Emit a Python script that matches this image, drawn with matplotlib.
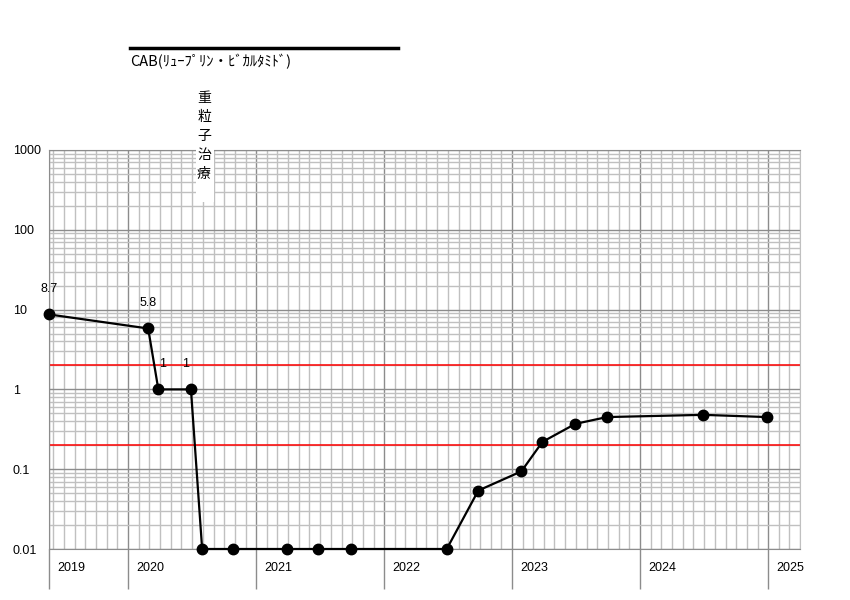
import numpy as np
import pandas as pd
import matplotlib
matplotlib.use("Agg")
from matplotlib import pyplot as plt
import matplotlib.dates as mdates
from matplotlib.ticker import FixedLocator, NullFormatter
from matplotlib.lines import Line2D
from matplotlib.patches import Rectangle

# %% data

dates = ["2019-05-20", "2020-02-27", "2020-03-27", "2020-06-28", "2020-07-30",
         "2020-10-27", "2021-03-29", "2021-06-26", "2021-09-27", "2022-06-28",
         "2022-09-26", "2023-01-27", "2023-03-28", "2023-06-30", "2023-09-28",
         "2024-06-29", "2024-12-28"]
values = [8.7, 5.8, 1.0, 1.0, 0.01, 0.01, 0.01, 0.01, 0.01, 0.01,
          0.054, 0.094, 0.22, 0.37, 0.45, 0.48, 0.45]
point_labels = ["8.7", "5.8", "1", "1"]
label_dx = [0, 0, 4, -5]          # px nudges of the value labels

ref_lines = [2.0, 0.2]
years = [2019, 2020, 2021, 2022, 2023, 2024, 2025]
y_ticks = [0.01, 0.1, 1, 10, 100, 1000]
y_tick_labels = ["0.01", "0.1", "1", "10", "100", "1000"]
x_start, x_end = "2019-05-20", "2025-04-01"

series_name = "CAB(ﾘｭｰﾌﾟﾘﾝ・ﾋﾞｶﾙﾀﾐﾄﾞ)"
event_text = "重粒子治療"

# %%

t = pd.to_datetime(dates)
xs = mdates.date2num(t)
x0 = mdates.date2num(pd.Timestamp(x_start))
x1 = mdates.date2num(pd.Timestamp(x_end))

num_font = "Liberation Sans"
jp_font = ["Noto Sans CJK JP", "DejaVu Sans"]

fig = plt.figure(figsize=(8.5, 6), dpi=100)
ax = fig.add_axes([49 / 850, 1 - 549 / 600, 751 / 850, 399 / 600])

ax.set_yscale("log")
ax.set_ylim(0.01, 1000)
ax.set_xlim(x0, x1)

# grid
year_pos = [x0] + [mdates.date2num(pd.Timestamp(f"{y}-01-01")) for y in years[1:]]
ax.xaxis.set_major_locator(FixedLocator(year_pos))
ax.xaxis.set_minor_locator(mdates.MonthLocator())
ax.xaxis.set_major_formatter(NullFormatter())
ax.set_yticks(y_ticks, y_tick_labels, ha="left", fontfamily=num_font, fontsize=9)
ax.yaxis.set_minor_formatter(NullFormatter())
ax.grid(which="minor", color="#c0c0c0", lw=1)
ax.grid(which="major", color="#8c8c8c", lw=1)
ax.set_axisbelow(True)
ax.tick_params(axis="y", which="both", length=0, pad=26)
ax.tick_params(axis="x", which="minor", length=0)
ax.tick_params(axis="x", which="major", length=29, color="#8c8c8c", width=1)
for side in ["left", "bottom", "top"]:
    ax.spines[side].set_color("#8c8c8c")
ax.spines["right"].set_color("#c0c0c0")

for pos, yr in zip(year_pos, years):
    ax.annotate(str(yr), xy=(pos, 0), xycoords=ax.get_xaxis_transform(),
                xytext=(6, -14), textcoords="offset points", ha="left",
                va="center", fontsize=9, fontfamily=num_font)

for r in ref_lines:
    ax.axhline(r, color="red", lw=1.1, zorder=2)

ax.plot(xs, values, color="black", lw=1.6, marker="o", markersize=7.5,
        zorder=4, clip_on=False)

for i, lab in enumerate(point_labels):
    ax.annotate(lab, xy=(xs[i], values[i]), xytext=(label_dx[i] / 1.389, 18.5),
                textcoords="offset points", ha="center", va="center",
                fontsize=9, fontfamily=num_font)

# event marker text (vertical) on a white strip
fig.add_artist(Rectangle((196 / 850, 1 - 202 / 600), 18 / 850, 114 / 600,
                         transform=fig.transFigure, facecolor="white",
                         edgecolor="none", zorder=5))
fig.text(204 / 850, 1 - 91 / 600, "\n".join(event_text), ha="center", va="top",
         fontsize=10, fontfamily=jp_font, linespacing=1.45, zorder=6)

# series legend at top
fig.add_artist(Line2D([130 / 850, 398 / 850], [1 - 48 / 600, 1 - 48 / 600],
                      color="black", lw=2.5))
fig.text(130 / 850, 1 - 62 / 600, series_name, ha="left", va="center",
         fontsize=10.5, fontfamily=jp_font)

fig.savefig("out.png", dpi=100)
plt.close()
